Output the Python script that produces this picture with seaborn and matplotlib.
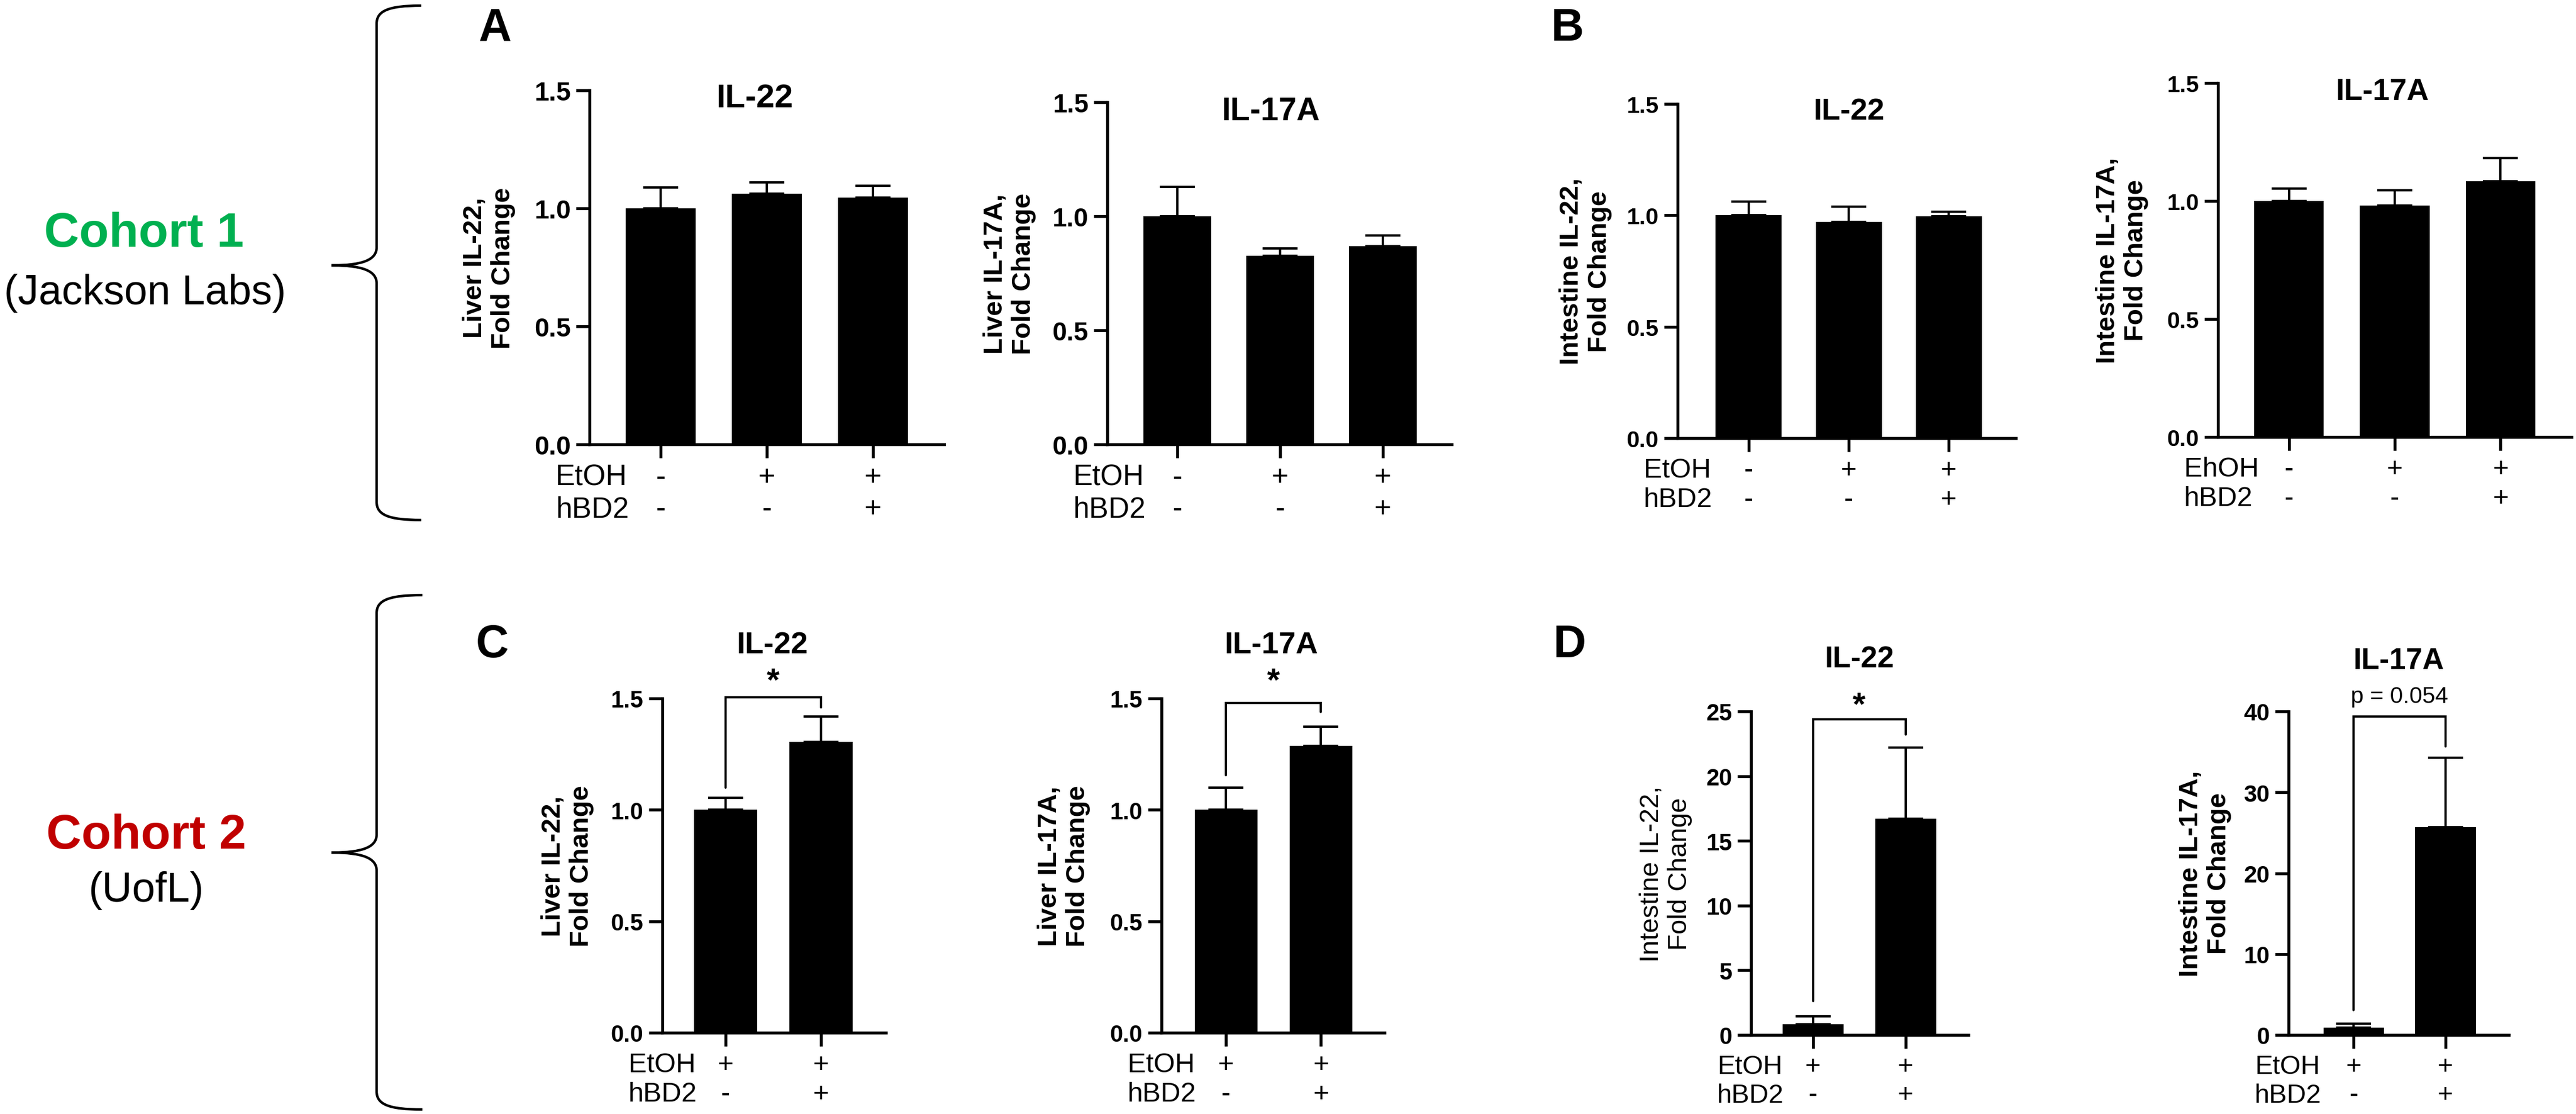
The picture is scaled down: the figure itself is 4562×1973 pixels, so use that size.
import numpy as np
import matplotlib
matplotlib.use("Agg")
import matplotlib.pyplot as plt
import matplotlib.transforms as mtransforms
from matplotlib.path import Path
from matplotlib.patches import PathPatch
import seaborn as sns

W, H = 4562, 1974
DPI = 200

# --- data (mean, upper error) ---
etoh_3 = ['-', '+', '+']
hbd2_3 = ['-', '-', '+']
etoh_2 = ['+', '+']
hbd2_2 = ['-', '+']

liver_il22_c1 = [1.00, 1.062, 1.046]
liver_il22_c1_err = [0.089, 0.048, 0.050]
liver_il17a_c1 = [1.00, 0.827, 0.869]
liver_il17a_c1_err = [0.129, 0.032, 0.047]

intest_il22_c1 = [1.00, 0.971, 0.997]
intest_il22_c1_err = [0.062, 0.069, 0.018]
intest_il17a_c1 = [1.00, 0.981, 1.084]
intest_il17a_c1_err = [0.053, 0.064, 0.098]

liver_il22_c2 = [1.00, 1.305]
liver_il22_c2_err = [0.053, 0.115]
liver_il17a_c2 = [1.00, 1.287]
liver_il17a_c2_err = [0.100, 0.087]

intest_il22_c2 = [0.83, 16.7]
intest_il22_c2_err = [0.61, 5.5]
intest_il17a_c2 = [0.90, 25.7]
intest_il17a_c2_err = [0.50, 8.6]

# significance brackets: (left foot, top, right foot)
sig_liver_il22_c2 = (1.10, 1.505, 1.46)
sig_liver_il17a_c2 = (1.155, 1.48, 1.44)
sig_intest_il22_c2 = (2.6, 24.4, 23.2)
sig_intest_il17a_c2 = (3.1, 39.4, 35.7)

sns.set_theme(style="ticks")
plt.rcParams['font.family'] = ['Liberation Sans', 'DejaVu Sans']
plt.rcParams.update({"text.color": "black", "axes.labelcolor": "black",
                     "xtick.color": "black", "ytick.color": "black",
                     "axes.edgecolor": "black"})

fig = plt.figure(figsize=(W / DPI, H / DPI), dpi=DPI)


def fx(x):
    return x / W


def fy(y):
    return 1 - y / H


def panel(box, xlim, ymax, yticks, ticklabels, means, errs, etoh, hbd2,
          title, title_xy, ylabel, ylab_x, sizes, row_name="EtOH", ylab_bold=True):
    x0, x1, ytop, ybot = box
    ax = fig.add_axes([fx(x0), fy(ybot), fx(x1 - x0), (ybot - ytop) / H])
    xl = [f"{e}\n{h}" for e, h in zip(etoh, hbd2)]
    sns.barplot(x=xl, y=means, order=xl, color="black", saturation=1,
                width=0.66, ax=ax, edgecolor="none", linewidth=0)
    ax.errorbar(range(len(means)), means, yerr=[np.zeros(len(errs)), errs],
                fmt="none", ecolor="black", elinewidth=1.5, capsize=11,
                capthick=1.5, zorder=3)
    ax.set_xlim(*xlim)
    ax.set_ylim(0, ymax)
    ax.set_yticks(yticks)
    ax.set_yticklabels(ticklabels, fontsize=sizes[0], fontweight="bold")
    ax.set_xticks(range(len(means)))
    ax.set_xticklabels(xl, fontsize=sizes[3], linespacing=1.2)
    ax.set_xlabel("")
    ax.set_ylabel("")
    for s in ["top", "right"]:
        ax.spines[s].set_visible(False)
    for s in ["left", "bottom"]:
        ax.spines[s].set_linewidth(1.9)
        ax.spines[s].set_color("black")
    ax.tick_params(axis="both", direction="out", length=8.6, width=1.9,
                   color="black", labelcolor="black")
    ax.tick_params(axis="y", pad=3.5)
    ax.tick_params(axis="x", pad=3.5)
    ax.set_facecolor("none")
    # row names for the treatment table
    tr = mtransforms.offset_copy(ax.transAxes, fig=fig, x=-60, y=-(24 + 10), units="dots")
    ax.text(0, 0, f"{row_name}\nhBD2", transform=tr, ha="left", va="top",
            fontsize=sizes[3], linespacing=1.2)
    fig.text(fx(title_xy[0]), fy(title_xy[1]), title, ha="center", va="center",
             fontsize=sizes[1], fontweight="bold")
    fig.text(fx(ylab_x), fy((ytop + ybot) / 2), ylabel, rotation=90, ha="center",
             va="center", multialignment="center", fontsize=sizes[2],
             fontweight="bold" if ylab_bold else "normal", linespacing=1.15)
    return ax


def bracket(ax, feet, label, label_y, size, bold=True):
    lb, top, rb = feet
    ax.plot([0, 0, 1, 1], [lb, top, top, rb], color="black", lw=1.4,
            clip_on=False, solid_joinstyle="miter")
    ax.text(0.5, label_y, label, ha="center", va="center", fontsize=size,
            fontweight="bold" if bold else "normal", clip_on=False)


lin = [0.0, 0.5, 1.0, 1.5]
lin_lab = ["0.0", "0.5", "1.0", "1.5"]

# Cohort 1
panel((1044, 1672, 161, 788), (-0.67, 2.67), 1.5, lin, lin_lab,
      liver_il22_c1, liver_il22_c1_err, etoh_3, hbd2_3,
      "IL-22", (1336, 175), "Liver IL-22,\nFold Change", 866, (16.8, 21, 17, 18.7))
panel((1961, 2571, 182, 788), (-0.68, 2.67), 1.5, lin, lin_lab,
      liver_il17a_c1, liver_il17a_c1_err, etoh_3, hbd2_3,
      "IL-17A", (2250, 198), "Liver IL-17A,\nFold Change", 1788, (16.5, 20.5, 17, 18.5))
panel((2971, 3570, 185, 777), (-0.71, 2.67), 1.5, lin, lin_lab,
      intest_il22_c1, intest_il22_c1_err, etoh_3, hbd2_3,
      "IL-22", (3274, 198), "Intestine IL-22,\nFold Change", 2808, (14.8, 19.5, 17, 17.5))
panel((3928, 4554, 148, 775), (-0.67, 2.67), 1.5, lin, lin_lab,
      intest_il17a_c1, intest_il17a_c1_err, etoh_3, hbd2_3,
      "IL-17A", (4219, 163), "Intestine IL-17A,\nFold Change", 3758, (14.8, 19.5, 17, 17.5),
      row_name="EhOH")

# Cohort 2
ax_c1 = panel((1173, 1569, 1238, 1830), (-0.66, 1.68), 1.5, lin, lin_lab,
              liver_il22_c2, liver_il22_c2_err, etoh_2, hbd2_2,
              "IL-22", (1368, 1143), "Liver IL-22,\nFold Change", 1005, (15, 19.6, 17, 17.5))
bracket(ax_c1, sig_liver_il22_c2, "*", 1.575, 21)
ax_c2 = panel((2057, 2452, 1238, 1830), (-0.68, 1.67), 1.5, lin, lin_lab,
              liver_il17a_c2, liver_il17a_c2_err, etoh_2, hbd2_2,
              "IL-17A", (2251, 1143), "Liver IL-17A,\nFold Change", 1884, (15, 19.6, 17, 17.5))
bracket(ax_c2, sig_liver_il17a_c2, "*", 1.575, 21)
ax_d1 = panel((3101, 3486, 1261, 1834), (-0.67, 1.68), 25, [0, 5, 10, 15, 20, 25],
              ["0", "5", "10", "15", "20", "25"],
              intest_il22_c2, intest_il22_c2_err, etoh_2, hbd2_2,
              "IL-22", (3293, 1168), "Intestine IL-22,\nFold Change", 2950, (15, 19, 17, 17),
              ylab_bold=False)
bracket(ax_d1, sig_intest_il22_c2, "*", 25.4, 21)
ax_d2 = panel((4053, 4443, 1261, 1834), (-0.71, 1.69), 40, [0, 10, 20, 30, 40],
              ["0", "10", "20", "30", "40"],
              intest_il17a_c2, intest_il17a_c2_err, etoh_2, hbd2_2,
              "IL-17A", (4248, 1171), "Intestine IL-17A,\nFold Change", 3905, (15, 19, 17, 17))
bracket(ax_d2, sig_intest_il17a_c2, "p = 0.054", 41.9, 14.8, bold=False)

# panel letters
for letter, (x, y) in {"A": (877, 51), "B": (2776, 51), "C": (872, 1143), "D": (2780, 1143)}.items():
    fig.text(fx(x), fy(y), letter, ha="center", va="center", fontsize=29, fontweight="bold")

# cohort labels
fig.text(fx(255), fy(415), "Cohort 1", ha="center", va="center", fontsize=31,
         fontweight="bold", color="#00b050")
fig.text(fx(257), fy(520), "(Jackson Labs)", ha="center", va="center", fontsize=26.5)
fig.text(fx(259), fy(1481), "Cohort 2", ha="center", va="center", fontsize=31,
         fontweight="bold", color="#c00000")
fig.text(fx(259), fy(1578), "(UofL)", ha="center", va="center", fontsize=26.5)


def brace(x_tip, stem, x_end, y_top, y_mid, y_bot, r=32):
    pts = [
        (x_end, y_top), (stem + 20, y_top), (stem, y_top + r * 0.3), (stem, y_top + r),
        (stem, y_mid - r),
        (stem, y_mid - r * 0.3), (stem - 25, y_mid), (x_tip, y_mid),
        (stem - 25, y_mid), (stem, y_mid + r * 0.3), (stem, y_mid + r),
        (stem, y_bot - r),
        (stem, y_bot - r * 0.3), (stem + 20, y_bot), (x_end, y_bot),
    ]
    codes = [Path.MOVETO, Path.CURVE4, Path.CURVE4, Path.CURVE4, Path.LINETO,
             Path.CURVE4, Path.CURVE4, Path.CURVE4, Path.CURVE4, Path.CURVE4, Path.CURVE4,
             Path.LINETO, Path.CURVE4, Path.CURVE4, Path.CURVE4]
    verts = [(fx(x), fy(y)) for x, y in pts]
    fig.patches.append(PathPatch(Path(verts, codes), transform=fig.transFigure,
                                 facecolor="none", edgecolor="black", lw=1.6))


brace(587, 667, 746, 11, 471, 922)
brace(587, 667, 748, 1055, 1511, 1966)

fig.savefig("out.png", dpi=DPI, facecolor="white")
